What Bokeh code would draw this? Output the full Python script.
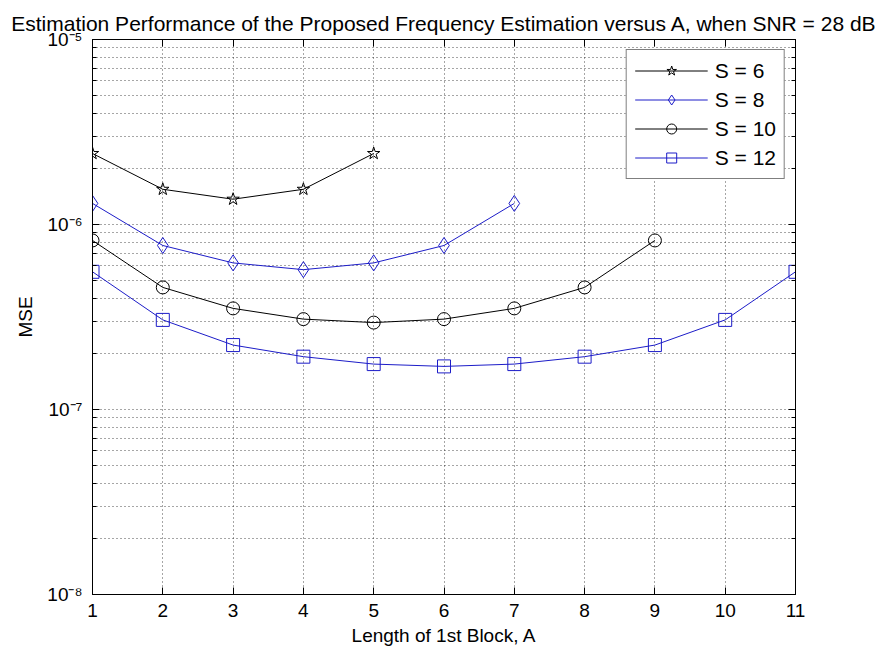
from bokeh.plotting import figure
from bokeh.models import (FixedTicker, LogAxis, LinearAxis, Legend, LegendItem,
                          Range1d)
from bokeh.embed import file_html
from bokeh.resources import INLINE

# ---- data ----
title_text = "Estimation Performance of the Proposed Frequency Estimation versus A, when SNR = 28 dB"
x_label = "Length of 1st Block, A"
y_label = "MSE"

a_s6 = [1, 2, 3, 4, 5]
mse_s6 = [2.42e-6, 1.55e-6, 1.37e-6, 1.55e-6, 2.42e-6]

a_s8 = [1, 2, 3, 4, 5, 6, 7]
mse_s8 = [1.30e-6, 7.7e-7, 6.2e-7, 5.7e-7, 6.2e-7, 7.7e-7, 1.30e-6]

a_s10 = [1, 2, 3, 4, 5, 6, 7, 8, 9]
mse_s10 = [8.2e-7, 4.57e-7, 3.52e-7, 3.08e-7, 2.95e-7, 3.08e-7, 3.52e-7, 4.57e-7, 8.2e-7]

a_s12 = [1, 2, 3, 4, 5, 6, 7, 8, 9, 10, 11]
mse_s12 = [5.55e-7, 3.05e-7, 2.23e-7, 1.93e-7, 1.76e-7, 1.71e-7, 1.76e-7, 1.93e-7,
           2.23e-7, 3.05e-7, 5.55e-7]

series_labels = ["S = 6", "S = 8", "S = 10", "S = 12"]

x_ticks = [1, 2, 3, 4, 5, 6, 7, 8, 9, 10, 11]
y_ticks = [1e-8, 1e-7, 1e-6, 1e-5]
y_tick_labels = ["10\u207b\u2078", "10\u207b\u2077", "10\u207b\u2076", "10\u207b\u2075"]
y_minor = [k * 10.0 ** e for e in (-8, -7, -6) for k in range(2, 10)]

FONT = "Liberation Sans"
FS = "19px"
BLACK = "#000000"
BLUE = "#1c1cc8"

p = figure(width=883, height=653,
           x_range=Range1d(1, 11), y_range=Range1d(1e-8, 1e-5),
           y_axis_type="log", output_backend="svg", toolbar_location=None,
           min_border_left=92, min_border_right=88, min_border_top=39,
           min_border_bottom=59, background_fill_color="white",
           border_fill_color="white")

p.title.text = title_text
p.title.align = "center"
p.title.text_font = FONT
p.title.text_font_size = "21px"
p.title.text_font_style = "normal"
p.title.text_color = BLACK
p.title.standoff = 10

p.outline_line_color = BLACK
p.outline_line_width = 1

xt = FixedTicker(ticks=x_ticks, minor_ticks=[])
yt = FixedTicker(ticks=y_ticks, minor_ticks=y_minor)
overrides = {v: s for v, s in zip(y_ticks, y_tick_labels)}

xa = p.xaxis[0]
xa.ticker = xt
xa.axis_label = x_label
ya = p.yaxis[0]
ya.ticker = yt
ya.axis_label = y_label
ya.major_label_overrides = overrides

for ax in (xa, ya):
    ax.axis_label_text_font = FONT
    ax.axis_label_text_font_size = FS
    ax.axis_label_text_font_style = "normal"
    ax.axis_label_text_color = BLACK
    ax.major_label_text_font = FONT
    ax.major_label_text_font_size = FS
    ax.major_label_text_color = BLACK
    ax.axis_line_color = BLACK
    ax.major_tick_line_color = BLACK
    ax.minor_tick_line_color = BLACK
    ax.major_tick_in = 7
    ax.major_tick_out = 0
    ax.minor_tick_in = 4
    ax.minor_tick_out = 0

xa.major_label_standoff = 9
xa.axis_label_standoff = 5
ya.major_label_standoff = 10
ya.axis_label_standoff = 8

top_ax = LinearAxis(ticker=xt, major_label_text_font_size="1px",
                    major_label_text_color=None,
                    major_tick_in=7, major_tick_out=0, minor_tick_in=0, minor_tick_out=0,
                    axis_line_color=BLACK, major_tick_line_color=BLACK,
                    major_label_standoff=0)
right_ax = LogAxis(ticker=yt, major_label_text_font_size="1px",
                   major_label_text_color=None,
                   major_tick_in=7, major_tick_out=0, minor_tick_in=4, minor_tick_out=0,
                   axis_line_color=BLACK, major_tick_line_color=BLACK,
                   minor_tick_line_color=BLACK, major_label_standoff=0)
p.add_layout(top_ax, "above")
p.add_layout(right_ax, "right")

p.xgrid.ticker = xt
p.ygrid.ticker = yt
for g in (p.xgrid[0], p.ygrid[0]):
    g.grid_line_color = BLACK
    g.grid_line_alpha = 0.7
    g.grid_line_dash = "1 3"
    g.grid_line_width = 1
p.ygrid.minor_grid_line_color = BLACK
p.ygrid.minor_grid_line_alpha = 0.7
p.ygrid.minor_grid_line_dash = "1 3"

specs = [
    (a_s6, mse_s6, BLACK, "star", 13),
    (a_s8, mse_s8, BLUE, "diamond", 16),
    (a_s10, mse_s10, BLACK, "circle", 13),
    (a_s12, mse_s12, BLUE, "square", 13),
]
items = []
for (xs, ys, col, mk, sz), lab in zip(specs, series_labels):
    lr = p.line(xs, ys, line_color=col, line_width=1)
    sr = p.scatter(xs, ys, marker=mk, size=sz, line_color=col, line_width=1,
                   fill_alpha=0)
    items.append(LegendItem(label=lab, renderers=[lr, sr]))

leg = Legend(items=items, location="top_right", margin=10, padding=8,
             glyph_width=73, glyph_height=25, label_height=25, spacing=4,
             label_standoff=7, label_text_font=FONT, label_text_font_size="21px",
             label_text_color=BLACK, border_line_color=BLACK, border_line_width=1,
             background_fill_color="white", background_fill_alpha=1.0)
p.add_layout(leg, "center")

open("out.html", "w").write(file_html(p, INLINE))
